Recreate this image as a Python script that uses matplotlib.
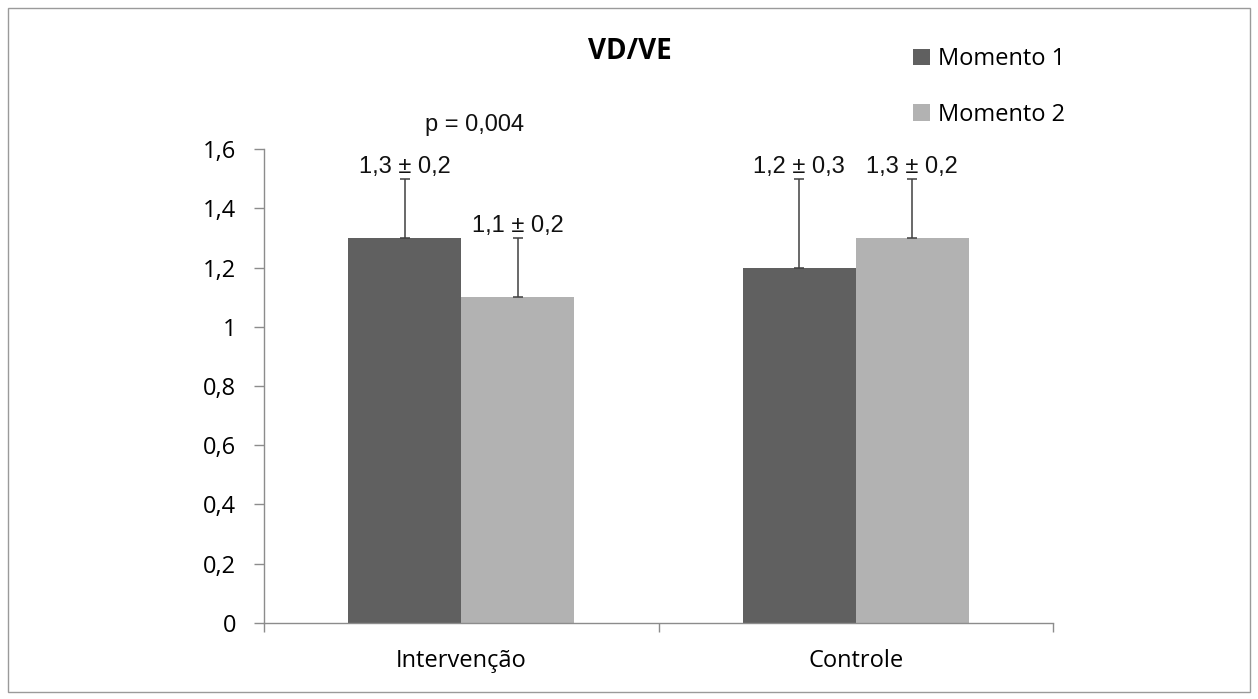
import matplotlib
matplotlib.use("Agg")
import matplotlib.pyplot as plt
from matplotlib.patches import Rectangle
import numpy as np

categories = ["Intervenção", "Controle"]
series_names = ["Momento 1", "Momento 2"]
momento1 = [1.3, 1.2]
momento2 = [1.1, 1.3]
err1 = [0.2, 0.3]
err2 = [0.2, 0.2]
labels1 = ["1,3 \u00b1 0,2", "1,2 \u00b1 0,3"]
labels2 = ["1,1 \u00b1 0,2", "1,3 \u00b1 0,2"]
p_label = "p = 0,004"
yticks = [0, 0.2, 0.4, 0.6, 0.8, 1.0, 1.2, 1.4, 1.6]
yticklabels = ["0", "0,2", "0,4", "0,6", "0,8", "1", "1,2", "1,4", "1,6"]

main_font = ["Open Sans", "DejaVu Sans"]
ann_font = ["Liberation Sans", "DejaVu Sans"]

fig = plt.figure(figsize=(12.58, 6.99), dpi=100)
fig.patches.append(Rectangle((0.006, 0.01), 0.988, 0.979, transform=fig.transFigure,
                             fill=False, edgecolor="#9a9a9a", linewidth=1.0))
ax = fig.add_axes([0.20986, 0.10873, 0.6272, 0.6781])

x = np.arange(len(categories))
w = 0.2865
c1, c2 = "#606060", "#b2b2b2"
ax.bar(x - w/2, momento1, w, color=c1, label=series_names[0], zorder=2)
ax.bar(x + w/2, momento2, w, color=c2, label=series_names[1], zorder=2)
ekw = dict(fmt="none", ecolor="#404040", elinewidth=1.1, capsize=3.6, capthick=1.1, zorder=3)
ax.errorbar(x - w/2, momento1, yerr=[np.zeros(2), err1], **ekw)
ax.errorbar(x + w/2, momento2, yerr=[np.zeros(2), err2], **ekw)

for xi, v, e, t in zip(x - w/2, momento1, err1, labels1):
    ax.text(xi, v + e + 0.02, t, ha="center", va="baseline", fontsize=17, family=ann_font, color="#111111")
for xi, v, e, t in zip(x + w/2, momento2, err2, labels2):
    ax.text(xi, v + e + 0.02, t, ha="center", va="baseline", fontsize=17, family=ann_font, color="#111111")
ax.text(0.033, 1.661, p_label, ha="center", va="baseline", fontsize=17, family=ann_font, color="#111111")

ax.set_xlim(-0.5, 1.5)
ax.set_ylim(0, 1.6)
ax.set_yticks(yticks)
ax.set_yticklabels(yticklabels, fontsize=17, family=main_font)
ax.set_xticks([-0.5, 0.5, 1.5], minor=False)
ax.set_xticklabels([])
ax.set_xticks(x, minor=True)
ax.set_xticklabels(categories, minor=True, fontsize=17, family=main_font)
ax.tick_params(axis="x", which="minor", length=0, pad=19)
ax.tick_params(axis="x", which="major", length=6.5, width=1.0, color="#8c8c8c", direction="out")
ax.tick_params(axis="y", length=7, width=1.0, color="#8c8c8c", direction="out", pad=13)
for s in ["top", "right"]:
    ax.spines[s].set_visible(False)
for s in ["left", "bottom"]:
    ax.spines[s].set_color("#8c8c8c")
    ax.spines[s].set_linewidth(1.0)

fig.text(0.501, 0.927, "VD/VE", ha="center", va="center", fontsize=20, fontweight="bold", family=main_font)
leg = fig.legend(loc="center left", bbox_to_anchor=(0.7258, 0.8755), frameon=False,
                 prop={"family": main_font, "size": 17}, handlelength=0.72, handleheight=0.72,
                 handletextpad=0.34, labelspacing=1.34, borderpad=0, borderaxespad=0)

fig.savefig("out.png", dpi=100)
